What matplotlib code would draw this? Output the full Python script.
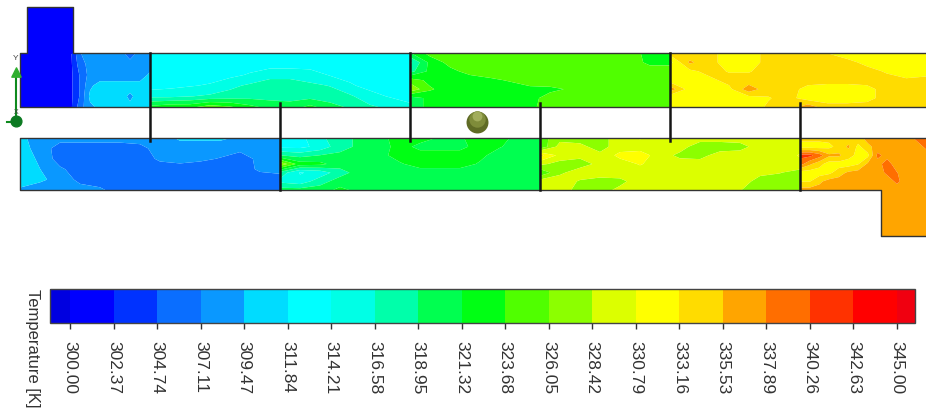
import matplotlib
matplotlib.use("Agg")
import matplotlib.pyplot as plt
import numpy as np
from matplotlib.colors import BoundaryNorm, ListedColormap

W, H = 926, 411

TICKS = [300.00, 302.37, 304.74, 307.11, 309.47, 311.84, 314.21, 316.58, 318.95, 321.32,
         323.68, 326.05, 328.42, 330.79, 333.16, 335.53, 337.89, 340.26, 342.63, 345.00]
BAND_COLORS = ["#0000ff", "#0032ff", "#0a6eff", "#0a98ff", "#00dcff", "#00ffff", "#00ffe6",
               "#00ffaa", "#00ff50", "#00ff14", "#50ff00", "#8cff00", "#dcff00", "#ffff00",
               "#ffdc00", "#ffa500", "#ff6e00", "#ff3200", "#ff0000"]

# temperatura [K], tramo por tramo (filas arriba -> abajo)
INLET = [[301, 301], [301, 301]]
OUTLET = [[336.5, 336.5], [336.5, 336.5]]

UPPER_1 = [
    [301, 301, 301, 301, 301, 301.5, 307, 308, 308, 308, 308, 306, 308, 308],
    [301, 301, 301, 301, 301, 301.5, 306, 308, 308, 308, 308, 308, 308, 308],
    [301, 301, 301, 301, 301, 301.5, 305, 308, 308, 308, 308, 308, 308, 310],
    [301, 301, 301, 301, 301, 301.5, 305, 309, 310.5, 310.5, 310.5, 310.5, 310.5, 310.5],
    [301, 301, 301, 301, 301, 301.5, 305, 310, 310.5, 310.5, 310.5, 309, 310.5, 310.5],
    [301, 301, 301, 301, 301, 301.5, 306, 309, 310, 310, 310, 310, 310.5, 310.5],
]
UPPER_2 = [
    [313, 313.5, 313.5, 313.5, 313.5, 313.5, 313.5, 313.5, 313.5, 313.5, 313.5, 313.5, 313.5, 313],
    [313, 313, 313, 313, 313, 313, 313, 313, 313, 313, 313, 313, 313, 313],
    [312.5, 313, 313, 313, 313.5, 314.5, 316, 316, 315.5, 314, 313.5, 313.5, 313, 313],
    [313, 313.5, 314, 314.5, 316, 317, 317.5, 317.5, 317, 316.5, 314.5, 313.5, 313, 313],
    [316, 316, 316.5, 317, 317.5, 318, 318, 318, 318, 317.5, 317, 315, 314, 313],
    [322, 323, 323, 325, 324, 322, 320.5, 320, 322, 320, 318.5, 317, 316, 315],
]
UPPER_3 = [
    [321, 324.5, 325, 325, 324, 324, 325, 325, 325, 325, 325, 324.5, 323, 323],
    [316, 322, 324.5, 325, 325, 325, 325, 325, 325, 325, 325, 325, 323, 323],
    [318, 322, 323, 324.5, 325, 325, 325, 325, 325, 325, 325, 325, 325, 325],
    [325, 323, 322.5, 322.5, 323.2, 323.9, 325, 325, 325, 325, 325, 325, 325, 325],
    [328, 324, 322.5, 322.5, 322.5, 322.5, 323, 323.2, 323.9, 325, 325, 325, 325, 325],
    [320, 322, 322.5, 322.5, 322.5, 322.5, 323, 324.5, 325, 325, 325, 325, 325, 325],
    [320, 322, 322.5, 322.5, 322.5, 323, 323, 325, 326, 325, 325, 325, 325, 325],
]
UPPER_4 = [
    [334, 334, 334, 332, 332, 334, 334, 334, 333.2, 332, 332, 332, 332, 332],
    [330, 336, 334, 332, 332, 334, 334, 334, 334, 333.9, 332.5, 332, 332, 332],
    [332, 332.5, 334, 333, 333, 334, 334, 334, 334, 334, 334, 332.9, 332, 332],
    [332, 332, 332.5, 334, 334, 334, 334, 334, 334, 334, 334, 334, 333.5, 334],
    [337, 332, 332, 332.5, 337, 334, 334, 332.5, 332, 332, 332.5, 334, 334, 334],
    [331, 332, 332, 332, 332, 333, 334, 332, 332, 332, 332.5, 334, 334, 334],
    [331, 332, 332, 332, 332, 333.5, 334, 337, 334, 334, 334, 334, 334, 334],
]
LOWER_1 = [
    [310, 308.5, 308, 308, 308, 308, 308, 308, 310, 310, 310, 309, 308, 308],
    [310.5, 308.5, 306, 306, 306, 306, 306.5, 308, 308, 308, 308, 308, 308, 308],
    [311, 309, 306, 306, 306, 306, 306, 307.5, 308, 307.5, 307, 305.5, 308, 308],
    [311, 309.5, 307.5, 306, 306, 306, 306, 306, 306, 306, 306, 306, 307.5, 308],
    [311, 310, 308.5, 306.5, 306, 306, 306, 306, 306, 306, 306, 306, 306, 306],
    [309, 308, 308, 308, 307.5, 306, 306, 306, 306, 306, 306, 306, 306, 306],
]
LOWER_2 = [
    [314, 313.5, 316, 318, 319.5, 320.5, 322.5, 322.5, 321, 321, 322.5, 322.5, 320, 319.5],
    [313.5, 313.5, 315, 318, 319.5, 320, 322.5, 320.5, 320.5, 320.5, 322.5, 321.5, 320, 320],
    [319, 318, 319, 319.5, 320, 320.5, 322.5, 322.5, 322.5, 322.5, 322, 320, 320, 320],
    [328, 322.5, 322, 320, 320, 320, 321, 322.5, 322.5, 322.5, 321, 320, 320, 320],
    [318, 314, 315, 318, 320, 320, 320, 320, 320, 320, 320, 320, 320, 320],
    [316, 315, 318, 320, 320.5, 320, 320, 320, 320, 320, 320, 320, 320, 320],
    [320, 320, 320, 322, 320.5, 320, 320, 320, 320, 320, 320, 320, 320, 320],
]
LOWER_3 = [
    [325, 327.5, 327.5, 327.5, 329.6, 331, 329.6, 329.6, 329.6, 329.6, 329.6, 329.6, 329.6, 329.6],
    [324, 329.5, 329, 327.5, 329.6, 329.6, 329.6, 329.5, 327, 327, 327.5, 329.6, 329.6, 329.6],
    [334, 330, 329, 329, 331.5, 332, 329.6, 327.8, 327.5, 329.6, 329.6, 329.6, 329.6, 331],
    [329, 327.5, 327.5, 329, 329.6, 331, 329.6, 329.6, 329.6, 329.6, 329.6, 329.6, 329.6, 330],
    [324, 328, 329.6, 329.6, 329.6, 329.6, 329.6, 329.6, 329.6, 329.6, 329.6, 329, 328.5, 327.5],
    [329.6, 329.6, 328.2, 327.5, 327.8, 329.6, 329.6, 329.6, 329.6, 329.6, 329.6, 327.5, 327.5, 327.5],
    [329.6, 329.6, 327.5, 327.5, 329, 329.6, 329.6, 329.6, 329.6, 329.6, 328.5, 327.5, 327.5, 327.5],
]
LOWER_4 = [
    [334, 334, 334, 334, 334, 334, 334.5, 336.5, 336.5, 336.5, 336.5, 336.5, 338.5, 339],
    [332, 332, 332, 332.5, 334, 336, 332.5, 334.9, 336.5, 336.5, 336.5, 336.5, 336.5, 338.5],
    [341, 341, 339, 336, 336, 334, 332.5, 332.5, 338.5, 337, 336.5, 336.5, 336.5, 336.5],
    [339, 336, 334, 332, 332, 332, 333, 336, 337, 339, 336.5, 336.5, 336.5, 336.5],
    [332, 332, 332, 332.5, 334.5, 336, 336.5, 336.5, 336.5, 338.5, 338, 336.5, 336.5, 336.5],
    [333, 333, 335, 336.5, 336.5, 336.5, 336.5, 336.5, 336.5, 336.5, 338.5, 336.5, 336.5, 336.5],
    [336.5, 336.5, 336.5, 336.5, 336.5, 336.5, 336.5, 336.5, 336.5, 336.5, 336.5, 336.5, 336.5, 336.5],
]

# (campo, x0, x1, y0, y1) en pixeles de la imagen
SECTIONS = [
    (INLET, 27, 73, 7, 54),
    (UPPER_1, 20, 150, 53.5, 107),
    (UPPER_2, 150, 410, 53.5, 107),
    (UPPER_3, 410, 670, 53.5, 107),
    (UPPER_4, 670, 926, 53.5, 107),
    (LOWER_1, 20, 280, 138, 190),
    (LOWER_2, 280, 540, 138, 190),
    (LOWER_3, 540, 800, 138, 190),
    (LOWER_4, 800, 926, 138, 190),
    (OUTLET, 881, 926, 190, 236),
]
BAFFLES_TOP = [150, 410, 670]
BAFFLES_BOTTOM = [280, 540, 800]

plt.rcParams["font.family"] = ["Liberation Sans", "DejaVu Sans"]

cmap = ListedColormap(BAND_COLORS)
cmap.set_under("#0000e0")
cmap.set_over("#f00010")
norm = BoundaryNorm(TICKS, cmap.N)

fig = plt.figure(figsize=(W / 100, H / 100), dpi=100)
ax = fig.add_axes([0, 0, 1, 1])
ax.set_xlim(0, W)
ax.set_ylim(H, 0)
ax.axis("off")

cs = None
for field, x0, x1, y0, y1 in SECTIONS:
    z = np.array(field, dtype=float)
    xs = np.linspace(x0, x1, z.shape[1])
    ys = np.linspace(y0, y1, z.shape[0])
    cs = ax.contourf(xs, ys, z, levels=TICKS, cmap=cmap, norm=norm, extend="both", antialiased=True)

# contorno de los conductos
edge = "#333333"
ax.plot([926, 73, 73, 27, 27, 20, 20, 926], [53.5, 53.5, 7, 7, 53.5, 53.5, 107, 107], color=edge, lw=1)
ax.plot([926, 20, 20, 881, 881, 926], [138, 138, 190, 190, 236, 236], color=edge, lw=1)

for x in BAFFLES_TOP:
    ax.plot([x, x], [53.5, 141], color="#151515", lw=1.8)
for x in BAFFLES_BOTTOM:
    ax.plot([x, x], [103, 190], color="#151515", lw=1.8)

# triedro de ejes
green = "#0f8a1e"
ax.plot([16, 16], [120, 72], color=green, lw=1.5)
ax.plot([7, 16], [122, 122], color=green, lw=1.5)
ax.scatter([16], [72], marker="^", s=45, color="#2fae2f", zorder=4)
ax.scatter([16], [121], s=60, color="#0c7a22", zorder=4)
ax.text(16, 58, "Y", fontsize=6, ha="center", va="center", color="#444444")
ax.text(16, 112, "X", fontsize=5, ha="center", va="center", color="#444444")

# esfera
ax.scatter([477], [122], s=250, color="#5f6b25", zorder=4, linewidths=0)
ax.scatter([477], [119], s=140, color="#7f8c3a", zorder=5, linewidths=0)
ax.scatter([477], [116], s=50, color="#a2ad5c", zorder=6, linewidths=0)

# barra de color: el cuerpo va de 70 a 897 px, las extensiones a 50 y 915 px
cax = fig.add_axes([50 / W, 1 - 323 / H, (915 - 50) / W, (323 - 289) / H])
cb = fig.colorbar(cs, cax=cax, orientation="horizontal", ticks=TICKS, extendfrac=[20 / 827, 18 / 827],
                  extendrect=True, spacing="uniform")
cb.outline.set_edgecolor("#444444")
cb.outline.set_linewidth(1)
cb.ax.set_xticklabels([f"{t:.2f}" for t in TICKS], rotation=270, fontsize=12.5, color="#333333")
cb.ax.tick_params(axis="x", length=4, width=1, color="#333333", pad=9)
cb.ax.minorticks_off()

ax.text(32, 289, "Temperature [K]", rotation=270, fontsize=12, ha="center", va="top", color="#333333")

fig.savefig("out.png", dpi=100)
